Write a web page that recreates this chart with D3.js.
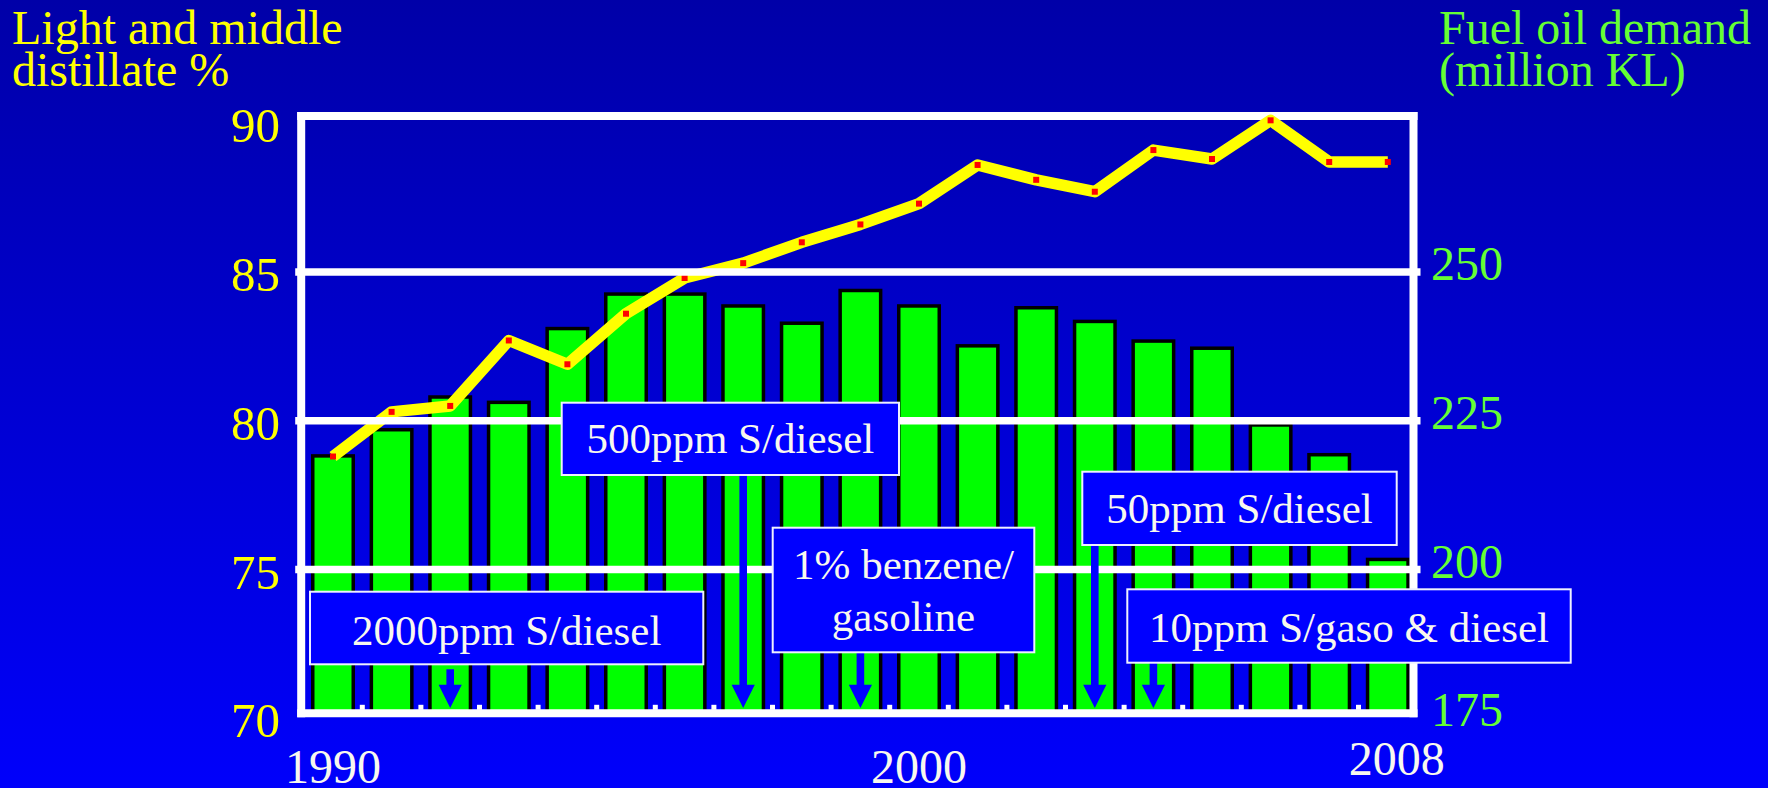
<!DOCTYPE html>
<html>
<head>
<meta charset="utf-8">
<script src="https://cdn.jsdelivr.net/npm/d3@7"></script>
<style>
  html, body { margin: 0; padding: 0; background: #0000c8; overflow: hidden; }
  svg { display: block; }
</style>
</head>
<body>
<svg id="chart" width="1768" height="788"></svg>
<script>
// ---- data ----
const years = [1990, 1991, 1992, 1993, 1994, 1995, 1996, 1997, 1998, 1999,
               2000, 2001, 2002, 2003, 2004, 2005, 2006, 2007, 2008];
// fuel oil demand, million KL (bars, right axis)
const fuelDemand = [219.1, 223.5, 229.0, 228.1, 240.5, 246.3, 246.3, 244.3, 241.4, 246.9,
                    244.3, 237.6, 244.0, 241.7, 238.4, 237.2, 224.3, 219.3, 201.7];
// light and middle distillate share, % (line, left axis)
const distillatePct = [78.8, 80.3, 80.5, 82.7, 81.9, 83.6, 84.8, 85.3, 86.0, 86.6,
                       87.3, 88.6, 88.1, 87.7, 89.1, 88.8, 90.1, 88.7, 88.7];
const leftTicks = [70, 75, 80, 85, 90];
const rightTicks = [175, 200, 225, 250];
const gridValues = [75, 80, 85];
const yearLabels = [1990, 2000, 2008];
// regulation milestones
const noteYears = [1992, 1997, 1999, 2003, 2004];
const noteLines = [
  ["2000ppm S/diesel"],
  ["500ppm S/diesel"],
  ["1% benzene/", "gasoline"],
  ["50ppm S/diesel"],
  ["10ppm S/gaso & diesel"]
];

// ---- layout ----
const FONT = '"Liberation Serif", "Times New Roman", Times, serif';
const YELLOW = "#ffff00", GREEN = "#66ff33", CREAM = "#f8f8ee";
const frame = { left: 301.2, top: 116, right: 1413.5, bottom: 713.3 };

const svg = d3.select("#chart");
const defs = svg.append("defs");
const grad = defs.append("linearGradient")
  .attr("id", "bg").attr("x1", 0).attr("y1", 0).attr("x2", 0).attr("y2", 1);
grad.append("stop").attr("offset", "0%").attr("stop-color", "#0000a8");
grad.append("stop").attr("offset", "100%").attr("stop-color", "#0000fb");
defs.append("clipPath").attr("id", "plotClip")
  .append("rect").attr("x", 0).attr("y", 0).attr("width", 1768).attr("height", frame.bottom);

svg.append("rect").attr("width", 1768).attr("height", 788).attr("fill", "url(#bg)");

// scales
const x = d3.scaleBand().domain(years).range([303.7, 1417.1])
  .paddingInner(0.309).paddingOuter(0.1545);
const yLeft = d3.scaleLinear().domain([70, 90]).range([718.3, 123.3]);
const yRight = d3.scaleLinear().domain([175, 275]).range([718.3, 123.3]);
const cx = d => x(d) + x.bandwidth() / 2;

// top edge of the plot frame sits beneath the series
svg.append("line")
  .attr("x1", frame.left - 4).attr("x2", frame.right + 4)
  .attr("y1", frame.top).attr("y2", frame.top)
  .attr("stroke", "#fff").attr("stroke-width", 8);

// bars: fuel oil demand
svg.append("g").attr("clip-path", "url(#plotClip)")
  .selectAll("rect").data(years).join("rect")
  .attr("x", d => x(d))
  .attr("y", (d, i) => yRight(fuelDemand[i]))
  .attr("width", x.bandwidth())
  .attr("height", (d, i) => yRight(175) - yRight(fuelDemand[i]))
  .attr("fill", "#00ff00")
  .attr("stroke", "#000")
  .attr("stroke-width", 3.5);

// line: distillate share
const line = d3.line().x((d, i) => cx(years[i])).y(d => yLeft(d));
svg.append("path").datum(distillatePct)
  .attr("d", line)
  .attr("fill", "none")
  .attr("stroke", YELLOW)
  .attr("stroke-width", 11.5)
  .attr("stroke-linejoin", "round")
  .attr("stroke-linecap", "butt");
svg.append("g").selectAll("rect").data(distillatePct).join("rect")
  .attr("x", (d, i) => cx(years[i]) - 3)
  .attr("y", d => yLeft(d) - 3)
  .attr("width", 6).attr("height", 6)
  .attr("fill", "#ff0000");

// horizontal gridlines
svg.append("g").selectAll("line").data(gridValues).join("line")
  .attr("x1", frame.left - 6).attr("x2", frame.right + 7)
  .attr("y1", d => yLeft(d)).attr("y2", d => yLeft(d))
  .attr("stroke", "#fff").attr("stroke-width", 7.6);

// left, right and bottom edges of the frame
const edges = [
  [frame.left, frame.top - 4, frame.left, frame.bottom + 4],
  [frame.right, frame.top - 4, frame.right, frame.bottom + 4],
  [frame.left - 4, frame.bottom, frame.right + 4, frame.bottom]
];
svg.append("g").selectAll("line").data(edges).join("line")
  .attr("x1", d => d[0]).attr("y1", d => d[1])
  .attr("x2", d => d[2]).attr("y2", d => d[3])
  .attr("stroke", "#fff").attr("stroke-width", 8);

// inner tick marks at the category boundaries
svg.append("g").selectAll("rect").data(years.slice(1)).join("rect")
  .attr("x", d => x(d) - x.step() * x.paddingInner() / 2 - 2.5)
  .attr("y", frame.bottom - 8.5)
  .attr("width", 5).attr("height", 5)
  .attr("fill", "#fff");

// axis labels
svg.append("g").selectAll("text").data(leftTicks).join("text")
  .attr("x", 280).attr("y", d => yLeft(d) + 19)
  .attr("text-anchor", "end")
  .attr("font-family", FONT).attr("font-size", 49)
  .attr("fill", YELLOW)
  .text(d => d);

svg.append("g").selectAll("text").data(rightTicks).join("text")
  .attr("x", 1431).attr("y", d => yRight(d) + 8)
  .attr("font-family", FONT).attr("font-size", 48)
  .attr("fill", GREEN)
  .text(d => d);

svg.append("g").selectAll("text").data(yearLabels).join("text")
  .attr("x", (d, i) => cx(d) + (i === yearLabels.length - 1 ? 9 : 0))
  .attr("y", (d, i) => (i === yearLabels.length - 1 ? 775 : 783))
  .attr("text-anchor", "middle")
  .attr("font-family", FONT).attr("font-size", 48)
  .attr("fill", CREAM)
  .text(d => d);

// axis titles, one text per line
const titleLeft = ["Light and middle", "distillate %"];
const titleRight = ["Fuel oil demand", "(million KL)"];
svg.append("g").selectAll("text").data(titleLeft).join("text")
  .attr("x", 12).attr("y", (d, i) => 43.5 + i * 42.5)
  .attr("font-family", FONT).attr("font-size", 48).attr("fill", YELLOW)
  .text(d => d);
svg.append("g").selectAll("text").data(titleRight).join("text")
  .attr("x", 1439).attr("y", (d, i) => 43.5 + i * 42)
  .attr("font-family", FONT).attr("font-size", 48).attr("fill", GREEN)
  .text(d => d);

// milestone boxes and arrows
const boxes = [
  { x: 310,    y: 591.7, w: 393.3, h: 72.6,  base: 53.3, lead: 0, arrowTop: 669.3 },
  { x: 561.7,  y: 402.7, w: 337.3, h: 72.3,  base: 50.6, lead: 0 },
  { x: 772.7,  y: 527.7, w: 261.6, h: 124.6, base: 51.6, lead: 51.7 },
  { x: 1082.3, y: 471.7, w: 314.4, h: 73.3,  base: 51.6, lead: 0 },
  { x: 1127.3, y: 589.3, w: 443.4, h: 73.4,  base: 52.4, lead: 0 }
];

const arrowTip = frame.bottom - 5.3;
const headTop = arrowTip - 23.3;
const arrowPath = (xc, top) => {
  const s = 3.8, hw = 11.6;
  return `M${xc - s},${top} L${xc + s},${top} L${xc + s},${headTop} L${xc + hw},${headTop}` +
         ` L${xc},${arrowTip} L${xc - hw},${headTop} L${xc - s},${headTop} Z`;
};

svg.append("g").selectAll("path").data(noteYears).join("path")
  .attr("d", (d, i) => {
    const b = boxes[i];
    return arrowPath(cx(d), b.arrowTop !== undefined ? b.arrowTop : b.y + b.h);
  })
  .attr("fill", "#0000ff");

const notes = svg.append("g").selectAll("g").data(noteLines).join("g");
notes.append("rect")
  .attr("x", (d, i) => boxes[i].x).attr("y", (d, i) => boxes[i].y)
  .attr("width", (d, i) => boxes[i].w).attr("height", (d, i) => boxes[i].h)
  .attr("fill", "#0000ff")
  .attr("stroke", "#eef0ff").attr("stroke-width", 2);
notes.each(function (lines, i) {
  const b = boxes[i];
  d3.select(this).selectAll("text").data(lines).join("text")
    .attr("x", b.x + b.w / 2)
    .attr("y", (t, j) => b.y + b.base + j * b.lead)
    .attr("text-anchor", "middle")
    .attr("font-family", FONT).attr("font-size", 43)
    .attr("fill", CREAM)
    .text(t => t);
});
</script>
</body>
</html>
